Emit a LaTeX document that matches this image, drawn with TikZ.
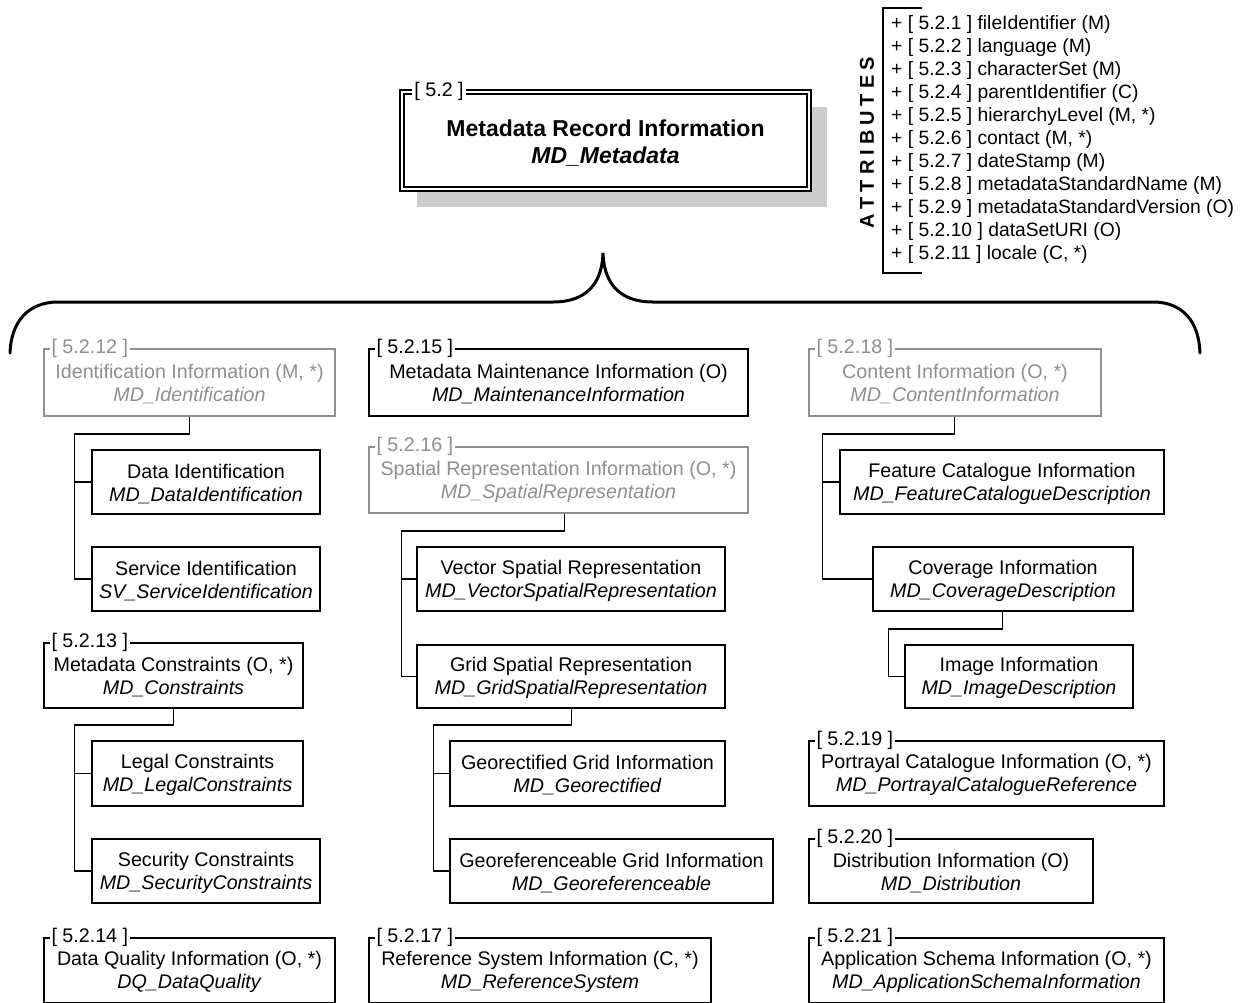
\documentclass[tikz,border=0pt]{standalone}
\usepackage{fontspec}
\setmainfont{Liberation Sans}
\usetikzlibrary{calc}
\definecolor{lg}{gray}{0.56}
\definecolor{shc}{gray}{0.8}
\tikzset{
 bx/.style={draw=black, line width=1.4pt, fill=white, inner sep=0pt, align=center, font=\fontsize{19.7}{23}\selectfont},
 gbx/.style={bx, draw=lg, text=lg},
 lbl/.style={fill=white, inner sep=2pt, anchor=west, font=\fontsize{19.7}{23}\selectfont},
 glbl/.style={lbl, text=lg},
 conn/.style={line width=1.6pt, draw=black},
 brace/.style={line width=3pt, line cap=round},
 attr/.style={anchor=base west, inner sep=0pt, font=\fontsize{19.3}{23}\selectfont},
}
\newcommand\mybox[8]{\node[#1, minimum width={(#5-#3)*1pt}, minimum height={(#6-#4)*1pt}] (#2) at ({(#3+#5)/2},{(#4+#6)/2}) {\rule{0pt}{18pt}#7\\\textit{#8}};}
\newcommand\gp{\hspace{5pt}}
\begin{document}
\begin{tikzpicture}[x=1pt,y=-1pt]
\useasboundingbox (0,0) rectangle (1241,1002);
% main box
\fill[shc] (417,107) rectangle (827,207);
\node[draw=black, line width=1.6pt, double=white, double distance=2pt, fill=white, minimum width=407pt, minimum height=97pt, inner sep=0pt, align=center, font=\bfseries\fontsize{23}{27}\selectfont] (main) at (605.5,140.5) {\rule{0pt}{21pt}Metadata Record Information\\\textit{MD\_Metadata}};
\node[lbl] (l52) at ([xshift=11pt]main.north west) {[ 5.2 ]};
% attributes
\node[rotate=90, inner sep=0pt, font=\bfseries\fontsize{20}{24}\selectfont] (attrt) at (867,143) {A\gp T\gp T\gp R\gp I\gp B\gp U\gp T\gp E\gp S};
\foreach \t [count=\i] in {{+ [ 5.2.1 ] fileIdentifier (M)},{+ [ 5.2.2 ] language (M)},{+ [ 5.2.3 ] characterSet (M)},{+ [ 5.2.4 ] parentIdentifier (C)},{+ [ 5.2.5 ] hierarchyLevel (M, *)},{+ [ 5.2.6 ] contact (M, *)},{+ [ 5.2.7 ] dateStamp (M)},{+ [ 5.2.8 ] metadataStandardName (M)},{+ [ 5.2.9 ] metadataStandardVersion (O)},{+ [ 5.2.10 ] dataSetURI (O)},{+ [ 5.2.11 ] locale (C, *)}}
  \node[attr] (a\i) at (891,{23*\i+6}) {\t};
\draw[line width=1.6pt] (922,8) -- (883,8) -- (883,273) -- (922,273);
% brace
\draw[brace] (10,353) .. controls (11,322) and (28,302) .. (58,302) -- (553,302) .. controls (585,302) and (602,285) .. (603,253) .. controls (604,285) and (621,302) .. (653,302) -- (1153,302) .. controls (1183,302) and (1199,322) .. (1200,353);
% column 1
\mybox{gbx}{i12}{44}{349}{335}{416}{Identification Information (M, *)}{MD\_Identification}
\node[glbl] (l12) at ([xshift=6pt]i12.north west) {[ 5.2.12 ]};
\mybox{bx}{dataid}{92}{450}{320}{514}{Data Identification}{MD\_DataIdentification}
\mybox{bx}{servid}{92}{547}{320}{611}{Service Identification}{SV\_ServiceIdentification}
\mybox{bx}{mc}{44}{643}{303}{708}{Metadata Constraints (O, *)}{MD\_Constraints}
\node[lbl] (l13) at ([xshift=6pt]mc.north west) {[ 5.2.13 ]};
\mybox{bx}{legal}{92}{741}{303}{806}{Legal Constraints}{MD\_LegalConstraints}
\mybox{bx}{sec}{92}{839}{320}{903}{Security Constraints}{MD\_SecurityConstraints}
\mybox{bx}{dq}{44}{938}{335}{1003}{Data Quality Information (O, *)}{DQ\_DataQuality}
\node[lbl] (l14) at ([xshift=6pt]dq.north west) {[ 5.2.14 ]};
% column 2
\mybox{bx}{mm}{369}{349}{748}{416}{Metadata Maintenance Information (O)}{MD\_MaintenanceInformation}
\node[lbl] (l15) at ([xshift=6pt]mm.north west) {[ 5.2.15 ]};
\mybox{gbx}{sr}{369}{447}{748}{513}{Spatial Representation Information (O, *)}{MD\_SpatialRepresentation}
\node[glbl] (l16) at ([xshift=6pt]sr.north west) {[ 5.2.16 ]};
\mybox{bx}{vec}{417}{547}{725}{611}{Vector Spatial Representation}{MD\_VectorSpatialRepresentation}
\mybox{bx}{grid}{417}{645}{725}{708}{Grid Spatial Representation}{MD\_GridSpatialRepresentation}
\mybox{bx}{georect}{450}{741}{725}{806}{Georectified Grid Information}{MD\_Georectified}
\mybox{bx}{georef}{450}{839}{773}{903}{Georeferenceable Grid Information}{MD\_Georeferenceable}
\mybox{bx}{rs}{369}{938}{711}{1003}{Reference System Information (C, *)}{MD\_ReferenceSystem}
\node[lbl] (l17) at ([xshift=6pt]rs.north west) {[ 5.2.17 ]};
% column 3
\mybox{gbx}{ci}{809}{349}{1101}{416}{Content Information (O, *)}{MD\_ContentInformation}
\node[glbl] (l18) at ([xshift=6pt]ci.north west) {[ 5.2.18 ]};
\mybox{bx}{feat}{840}{450}{1164}{514}{Feature Catalogue Information}{MD\_FeatureCatalogueDescription}
\mybox{bx}{cov}{873}{547}{1133}{611}{Coverage Information}{MD\_CoverageDescription}
\mybox{bx}{img}{905}{645}{1133}{708}{Image Information}{MD\_ImageDescription}
\mybox{bx}{pc}{809}{741}{1164}{806}{Portrayal Catalogue Information (O, *)}{MD\_PortrayalCatalogueReference}
\node[lbl] (l19) at ([xshift=6pt]pc.north west) {[ 5.2.19 ]};
\mybox{bx}{dist}{809}{839}{1093}{903}{Distribution Information (O)}{MD\_Distribution}
\node[lbl] (l20) at ([xshift=6pt]dist.north west) {[ 5.2.20 ]};
\mybox{bx}{as}{809}{938}{1164}{1003}{Application Schema Information (O, *)}{MD\_ApplicationSchemaInformation}
\node[lbl] (l21) at ([xshift=6pt]as.north west) {[ 5.2.21 ]};
% connectors
\draw[conn] ([xshift=146pt]i12.south west) -- ++(0,17) -| ([xshift=-17pt]servid.west) -- (servid.west);
\draw[conn] ([xshift=-17pt]dataid.west) -- (dataid.west);
\draw[conn] ([xshift=130pt]mc.south west) -- ++(0,16) -| ([xshift=-17pt]sec.west) -- (sec.west);
\draw[conn] ([xshift=-17pt]legal.west) -- (legal.west);
\draw[conn] ([xshift=196pt]sr.south west) -- ++(0,17) -| ([xshift=-15pt]grid.west) -- (grid.west);
\draw[conn] ([xshift=-15pt]vec.west) -- (vec.west);
\draw[conn] ([xshift=155pt]grid.south west) -- ++(0,16) -| ([xshift=-16pt]georef.west) -- (georef.west);
\draw[conn] ([xshift=-16pt]georect.west) -- (georect.west);
\draw[conn] ([xshift=146pt]ci.south west) -- ++(0,17) -| ([xshift=-50pt]cov.west) -- (cov.west);
\draw[conn] ([xshift=-17pt]feat.west) -- (feat.west);
\draw[conn] ([xshift=130pt]cov.south west) -- ++(0,17) -| ([xshift=-16pt]img.west) -- (img.west);
\end{tikzpicture}
\end{document}
